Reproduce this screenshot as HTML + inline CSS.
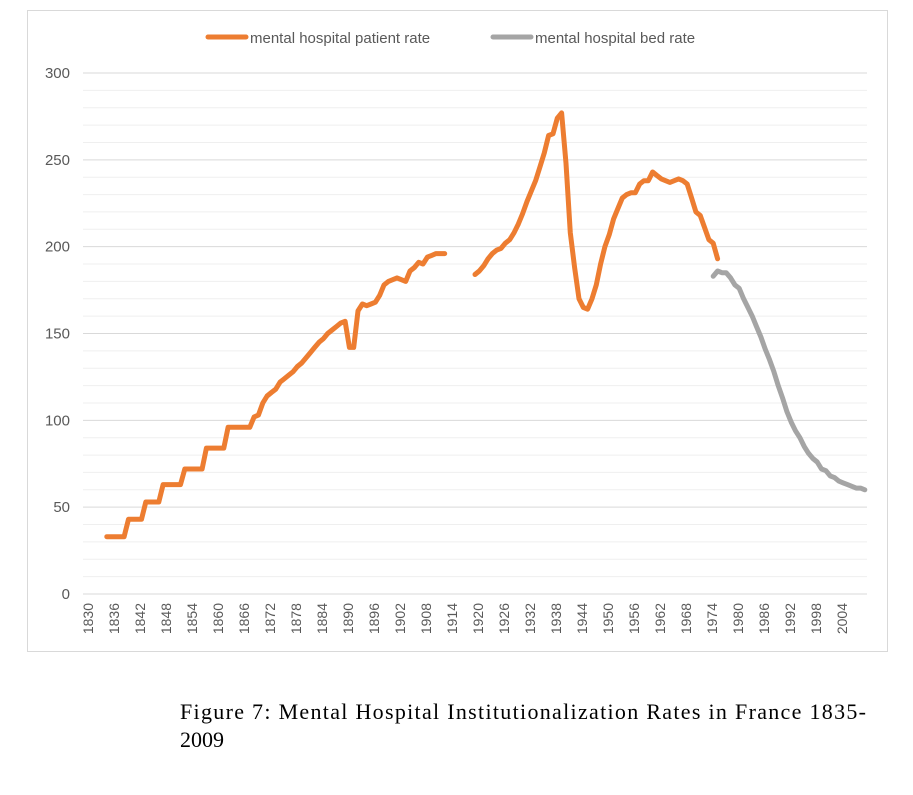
<!DOCTYPE html>
<html><head><meta charset="utf-8"><style>
body{margin:0;background:#fff;width:913px;height:795px;overflow:hidden}
svg{display:block}
</style></head><body>
<svg id="chart" width="913" height="795" xmlns="http://www.w3.org/2000/svg">
<rect x="27.5" y="10.5" width="860" height="641" fill="#fff" stroke="#d9d9d9"/>
<g id="grid"></g><g id="yticks"></g><g id="xticks"></g><g id="series"></g>
<g>
<line x1="208" y1="37" x2="246" y2="37" stroke="#ed7d31" stroke-width="5" stroke-linecap="round"/>
<text x="250" y="43" font-family="Liberation Sans, sans-serif" font-size="15" fill="#595959">mental hospital patient rate</text>
<line x1="493" y1="37" x2="531" y2="37" stroke="#a5a5a5" stroke-width="5" stroke-linecap="round"/>
<text x="535" y="43" font-family="Liberation Sans, sans-serif" font-size="15" fill="#595959">mental hospital bed rate</text>
</g>
<text x="180" y="719" font-family="Liberation Serif, serif" font-size="22" fill="#000" textLength="686" lengthAdjust="spacing">Figure 7: Mental Hospital Institutionalization Rates in France 1835-</text>
<text x="180" y="747" font-family="Liberation Serif, serif" font-size="22" fill="#000">2009</text>
</svg>
<script>
const patientYears1=[1835,1836,1837,1838,1839,1840,1841,1842,1843,1844,1845,1846,1847,1848,1849,1850,1851,1852,1853,1854,1855,1856,1857,1858,1859,1860,1861,1862,1863,1864,1865,1866,1867,1868,1869,1870,1871,1872,1873,1874,1875,1876,1877,1878,1879,1880,1881,1882,1883,1884,1885,1886,1887,1888,1889,1890,1891,1892,1893,1894,1895,1896,1897,1898,1899,1900,1901,1902,1903,1904,1905,1906,1907,1908,1909,1910,1911,1912,1913];
const patientValues1=[33,33,33,33,33,43,43,43,43,53,53,53,53,63,63,63,63,63,72,72,72,72,72,84,84,84,84,84,96,96,96,96,96,96,102,103,110,114,116,118,122,124,126,128,131,133,136,139,142,145,147,150,152,154,156,157,142,142,163,167,166,167,168,172,178,180,181,182,181,180,186,188,191,190,194,195,196,196,196];
const patientYears2=[1920,1921,1922,1923,1924,1925,1926,1927,1928,1929,1930,1931,1932,1933,1934,1935,1936,1937,1938,1939,1940,1941,1942,1943,1944,1945,1946,1947,1948,1949,1950,1951,1952,1953,1954,1955,1956,1957,1958,1959,1960,1961,1962,1963,1964,1965,1966,1967,1968,1969,1970,1971,1972,1973,1974,1975,1976];
const patientValues2=[184,186,189,193,196,198,199,202,204,208,213,219,226,232,238,246,254,264,265,274,277,248,208,188,170,165,164,170,178,190,200,207,216,222,228,230,231,231,236,238,238,243,241,239,238,237,238,239,238,236,228,220,218,211,204,202,193];
const bedYears=[1975,1976,1977,1978,1979,1980,1981,1982,1983,1984,1985,1986,1987,1988,1989,1990,1991,1992,1993,1994,1995,1996,1997,1998,1999,2000,2001,2002,2003,2004,2005,2006,2007,2008,2009,2010];
const bedValues=[183,186,185,185,182,178,176,170,165,160,154,148,141,135,128,120,113,105,99,94,90,85,81,78,76,72,71,68,67,65,64,63,62,61,61,60];
const yTicks=[0,50,100,150,200,250,300];
const xTickLabels=[1830,1836,1842,1848,1854,1860,1866,1872,1878,1884,1890,1896,1902,1908,1914,1920,1926,1932,1938,1944,1950,1956,1962,1968,1974,1980,1986,1992,1998,2004];

const NS="http://www.w3.org/2000/svg";
const X0=83, X1=867, FIRST=1830, NCAT=181;
const bw=(X1-X0)/NCAT;
const xs=y=>X0+(y-FIRST+0.5)*bw;
const ys=v=>594-v*(594-73)/300;
function mk(t,a,p){const e=document.createElementNS(NS,t);for(const k in a)e.setAttribute(k,a[k]);p.appendChild(e);return e;}
const grid=document.getElementById('grid');
for(let v=0;v<=300;v+=10){
  const l=mk('line',{x1:X0,x2:X1,y1:ys(v),y2:ys(v),stroke:v%50===0?'#d9d9d9':'#efefef','stroke-width':1},grid);
  
  
}
const yt=document.getElementById('yticks');
yTicks.forEach(v=>{
  const t=mk('text',{x:70,y:ys(v)+5,'text-anchor':'end','font-family':'Liberation Sans, sans-serif','font-size':15,fill:'#595959'},yt);
  t.textContent=v;
  
  
});
const xt=document.getElementById('xticks');
xTickLabels.forEach(y=>{
  const x=xs(y)+8;
  const t=mk('text',{x:x,y:603,'text-anchor':'end','font-family':'Liberation Sans, sans-serif','font-size':14,fill:'#595959',transform:`rotate(-90 ${x} 603)`},xt);
  t.textContent=y;
  
  
});
const sg=document.getElementById('series');
function line(years,vals,color,name){
  const d=years.map((y,i)=>(i?'L':'M')+xs(y).toFixed(1)+','+ys(vals[i]).toFixed(1)).join(' ');
  const p=mk('path',{d:d,fill:'none',stroke:color,'stroke-width':5,'stroke-linejoin':'round','stroke-linecap':'round'},sg);
  
  
}
line(patientYears1,patientValues1,'#ed7d31','patient-rate-line-1835-1913');
line(patientYears2,patientValues2,'#ed7d31','patient-rate-line-1920-1976');
line(bedYears,bedValues,'#a5a5a5','bed-rate-line');
</script>
</body></html>
